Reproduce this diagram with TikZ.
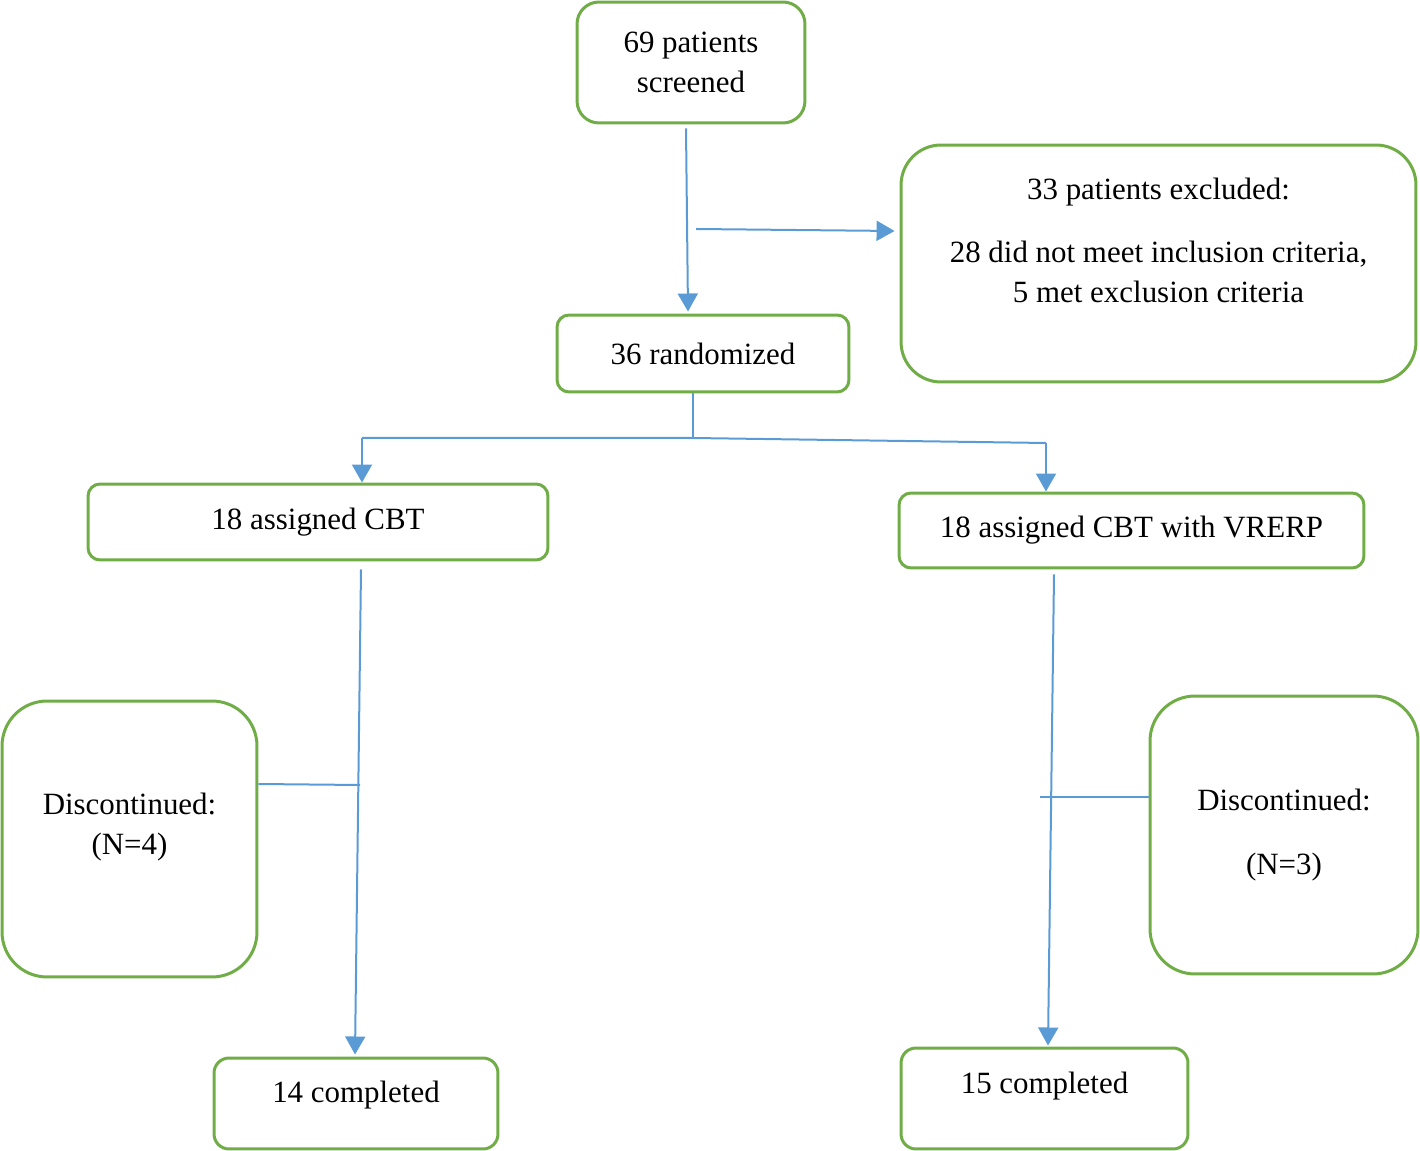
\documentclass[tikz,border=0pt]{standalone}
\usepackage{fontspec}
\setmainfont{Liberation Serif}
\usepackage{tikz}
\usetikzlibrary{arrows.meta}
\definecolor{boxgreen}{RGB}{112,173,71}
\definecolor{flowblue}{RGB}{91,155,213}

\begin{document}
\begin{tikzpicture}[x=0.02cm,y=-0.02cm,
    every node/.style={font=\fontsize{17.6}{22.5}\selectfont,align=center},
    box/.style={draw=boxgreen,line width=0.06cm,inner sep=0pt},
    link/.style={draw=flowblue,line width=0.04cm},
    flow/.style={link,-{Triangle[width=0.4cm,length=0.36cm]}}]
      \useasboundingbox (0,0) rectangle (1420,1151);
      % boxes
      \node[box,rounded corners=0.44cm,minimum width=4.56cm,minimum height=2.42cm] (screened) at (691,62.5) {69 patients\\screened};
      \node[box,rounded corners=0.8cm,minimum width=10.3cm,minimum height=4.74cm] (excluded) at (1158.5,263.5) {};
      \node (excluded-text) at ([yshift=0.47cm]excluded.center) {33 patients excluded:\\[0.48cm]28 did not meet inclusion criteria,\\5 met exclusion criteria};
      \node[box,rounded corners=0.24cm,minimum width=5.84cm,minimum height=1.54cm] (randomized) at (703,353.5) {36 randomized};
      \node[box,rounded corners=0.24cm,minimum width=9.2cm,minimum height=1.52cm] (cbt) at (318,522) {18 assigned CBT};
      \node[box,rounded corners=0.24cm,minimum width=9.3cm,minimum height=1.5cm] (vrerp) at (1131.5,530.5) {18 assigned CBT with VRERP};
      \node[box,rounded corners=0.9cm,minimum width=5.1cm,minimum height=5.52cm] (disc-cbt) at (129.5,839) {};
      \node (disc-cbt-text) at ([yshift=0.24cm]disc-cbt.center) {Discontinued:\\(N=4)};
      \node[box,rounded corners=0.9cm,minimum width=5.36cm,minimum height=5.56cm] (disc-vrerp) at (1284,835) {Discontinued:\\[0.48cm](N=3)};
      \node[box,rounded corners=0.3cm,minimum width=5.68cm,minimum height=1.82cm] (done-cbt) at (356,1103.5) {};
      \node (done-cbt-text) at ([yshift=0.17cm]done-cbt.center) {14 completed};
      \node[box,rounded corners=0.3cm,minimum width=5.74cm,minimum height=2.02cm] (done-vrerp) at (1044.5,1098.5) {};
      \node (done-vrerp-text) at ([yshift=0.25cm]done-vrerp.center) {15 completed};
      % junctions
      \coordinate (excl-tap) at (696,229);
      \coordinate (split) at (693,438);
      \coordinate (split-cbt) at (362,438);
      \coordinate (split-vrerp) at (1046,443);
      \coordinate (tap-cbt) at (360,785);
      \coordinate (tap-vrerp) at (1040,797);
      % connectors
      \draw[flow] ([yshift=-0.08cm]screened.south -| 686,0) -- ([yshift=0.04cm]randomized.north -| 688,0);
      \draw[flow] (excl-tap) -- ([xshift=-0.1cm]excluded.west |- 0,231);
      \draw[link] (randomized.south -| split) -- (split);
      \draw[link] (split-cbt) -- (split) -- (split-vrerp);
      \draw[flow] (split-cbt) -- (cbt.north -| split-cbt);
      \draw[flow] (split-vrerp) -- (vrerp.north -| split-vrerp);
      \draw[flow] ([yshift=-0.16cm]cbt.south -| 361,0) -- ([yshift=0.04cm]done-cbt.north -| 355,0);
      \draw[link] (disc-cbt.east |- 0,784) -- (tap-cbt);
      \draw[flow] ([yshift=-0.1cm]vrerp.south -| 1054,0) -- ([yshift=0.02cm]done-vrerp.north -| 1048,0);
      \draw[link] (tap-vrerp) -- (disc-vrerp.west |- tap-vrerp);
\end{tikzpicture}
\end{document}
